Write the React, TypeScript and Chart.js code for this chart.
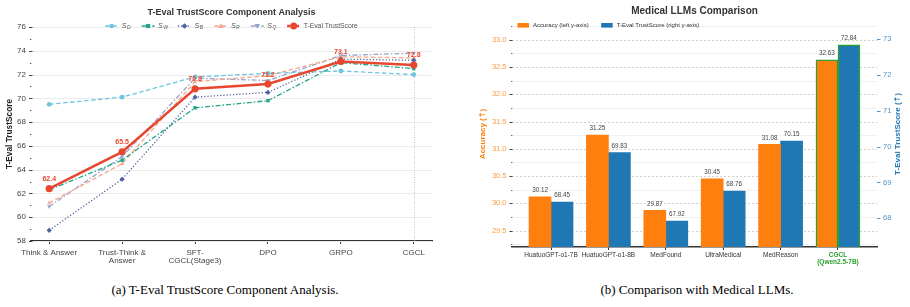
import React, { useEffect, useRef } from 'react';
import { Chart, registerables } from 'chart.js';

Chart.register(...registerables);

const FONT = "'Liberation Sans', Arial, Helvetica, sans-serif";
const ARROW_FONT = "'DejaVu Sans', sans-serif";

// ---------- Chart (a) data ----------
const stageLabels: string[][] = [
  ['Think & Answer'],
  ['Trust-Think &', 'Answer'],
  ['SFT-', 'CGCL(Stage3)'],
  ['DPO'],
  ['GRPO'],
  ['CGCL'],
];
const scoreD = [69.5, 70.1, 71.8, 72.1, 72.3, 72.0];
const scoreW = [62.3, 64.8, 69.2, 69.8, 73.0, 72.5];
const scoreB = [58.9, 63.2, 70.1, 70.5, 73.3, 73.2];
const scoreR = [61.2, 64.5, 71.4, 71.9, 73.5, 73.4];
const scoreQ = [60.9, 65.1, 71.7, 71.5, 73.6, 73.8];
const trustScore = [62.4, 65.5, 70.8, 71.2, 73.1, 72.8];
const leftYMajor = [58, 60, 62, 64, 66, 68, 70, 72, 74, 76];
const leftYMinor = [59, 61, 63, 65, 67, 69, 71, 73, 75];

// ---------- Chart (b) data ----------
const models: string[][] = [
  ['HuatuoGPT-o1-7B'],
  ['HuatuoGPT-o1-8B'],
  ['MedFound'],
  ['UltraMedical'],
  ['MedReason'],
  ['CGCL', '(Qwen2.5-7B)'],
];
const accuracy = [30.12, 31.25, 29.87, 30.45, 31.08, 32.63];
const trustB = [68.45, 69.83, 67.92, 68.76, 70.15, 72.84];
const accMajor = [29.5, 30.0, 30.5, 31.0, 31.5, 32.0, 32.5, 33.0];
const accMinor = [29.25, 29.75, 30.25, 30.75, 31.25, 31.75, 32.25, 32.75, 33.25];
const trustTicks = [68, 69, 70, 71, 72, 73];

type Marker = 'circle' | 'rect' | 'rectRot' | 'triangle' | 'triangleDown';

const seriesStyles: { sub: string; data: number[]; color: string; dash: number[]; marker: Marker }[] = [
  { sub: 'D', data: scoreD, color: '#6cc5dd', dash: [4.5, 2.5], marker: 'circle' },
  { sub: 'W', data: scoreW, color: '#22a488', dash: [5, 2, 1.5, 2], marker: 'rect' },
  { sub: 'B', data: scoreB, color: '#4d62a0', dash: [1.2, 2], marker: 'rectRot' },
  { sub: 'R', data: scoreR, color: '#f4a88c', dash: [4.5, 2.5], marker: 'triangle' },
  { sub: 'Q', data: scoreQ, color: '#96a2cc', dash: [5, 2, 1.5, 2], marker: 'triangleDown' },
];
const RED = '#e8472f';

function drawMarker(ctx: CanvasRenderingContext2D, m: Marker, x: number, y: number, r: number, color: string) {
  ctx.save();
  ctx.setLineDash([]);
  ctx.fillStyle = color;
  ctx.beginPath();
  if (m === 'circle') ctx.arc(x, y, r, 0, Math.PI * 2);
  else if (m === 'rect') {
    const s = r * 0.9;
    ctx.rect(x - s, y - s, 2 * s, 2 * s);
  } else if (m === 'rectRot') {
    const s = r * 1.2;
    ctx.moveTo(x, y - s);
    ctx.lineTo(x + s, y);
    ctx.lineTo(x, y + s);
    ctx.lineTo(x - s, y);
    ctx.closePath();
  } else if (m === 'triangle') {
    const s = r * 1.2;
    ctx.moveTo(x, y - s);
    ctx.lineTo(x + s, y + s * 0.7);
    ctx.lineTo(x - s, y + s * 0.7);
    ctx.closePath();
  } else {
    const s = r * 1.2;
    ctx.moveTo(x, y + s);
    ctx.lineTo(x + s, y - s * 0.7);
    ctx.lineTo(x - s, y - s * 0.7);
    ctx.closePath();
  }
  ctx.fill();
  ctx.restore();
}

// draws "text (↑)" centred at 0,0 in current transform; arrow uses a font that has the glyph
function drawArrowTitle(ctx: CanvasRenderingContext2D, text: string, size: number, color: string) {
  const f1 = `bold ${size}px ${FONT}`;
  const f2 = `bold ${size}px ${ARROW_FONT}`;
  ctx.fillStyle = color;
  ctx.textBaseline = 'middle';
  ctx.textAlign = 'left';
  ctx.font = f1;
  const w1 = ctx.measureText(text + ' (').width;
  const w3 = ctx.measureText(')').width;
  ctx.font = f2;
  const w2 = ctx.measureText('\u2191').width;
  const total = w1 + w2 + w3;
  let x = -total / 2;
  ctx.font = f1;
  ctx.fillText(text + ' (', x, 0);
  x += w1;
  ctx.font = f2;
  ctx.fillText('\u2191', x, 0);
  x += w2;
  ctx.font = f1;
  ctx.fillText(')', x, 0);
}

const pluginA = {
  id: 'decoA',
  beforeDatasetsDraw(chart: any) {
    const { ctx, chartArea: ca } = chart;
    const xs = chart.scales.x;
    const ys = chart.scales.y;
    ctx.save();
    ctx.strokeStyle = '#ebebeb';
    ctx.lineWidth = 1;
    for (const v of leftYMajor) {
      const py = Math.round(ys.getPixelForValue(v)) + 0.5;
      ctx.beginPath();
      ctx.moveTo(ca.left, py);
      ctx.lineTo(ca.right, py);
      ctx.stroke();
    }
    const px = Math.round(xs.getPixelForValue(5)) + 0.5;
    ctx.strokeStyle = '#c2c2c2';
    ctx.setLineDash([1, 1.5]);
    ctx.beginPath();
    ctx.moveTo(px, ca.top);
    ctx.lineTo(px, ca.bottom);
    ctx.stroke();
    ctx.restore();
  },
  afterDatasetsDraw(chart: any) {
    const { ctx } = chart;
    const idx = chart.data.datasets.findIndex((d: any) => d.label === 'T-Eval TrustScore');
    const meta = chart.getDatasetMeta(idx);
    ctx.save();
    ctx.font = `bold 7px ${FONT}`;
    ctx.fillStyle = RED;
    ctx.textAlign = 'center';
    ctx.textBaseline = 'middle';
    meta.data.forEach((el: any, i: number) => {
      ctx.fillText(trustScore[i].toFixed(1), el.x, el.y - 9.5);
    });
    ctx.restore();
  },
  afterDraw(chart: any) {
    const { ctx, chartArea: ca } = chart;
    const ys = chart.scales.y;
    ctx.save();
    ctx.strokeStyle = '#444';
    ctx.lineWidth = 1;
    for (const v of leftYMajor) {
      const py = Math.round(ys.getPixelForValue(v)) + 0.5;
      ctx.beginPath();
      ctx.moveTo(ca.left - 2, py);
      ctx.lineTo(ca.left + 1.5, py);
      ctx.stroke();
    }
    ctx.strokeStyle = '#555';
    for (const v of leftYMinor) {
      const py = Math.round(ys.getPixelForValue(v)) + 0.5;
      ctx.beginPath();
      ctx.moveTo(ca.left - 1, py);
      ctx.lineTo(ca.left + 0.3, py);
      ctx.stroke();
    }
    const cx = (ca.left + ca.right) / 2;
    ctx.fillStyle = '#333';
    ctx.font = `bold 9px ${FONT}`;
    ctx.textAlign = 'center';
    ctx.textBaseline = 'middle';
    ctx.fillText('T-Eval TrustScore Component Analysis', cx, 13);
    ctx.save();
    ctx.translate(10, (ca.top + ca.bottom) / 2);
    ctx.rotate(-Math.PI / 2);
    ctx.font = `bold 8.3px ${FONT}`;
    ctx.fillStyle = '#222';
    ctx.fillText('T-Eval TrustScore', 0, 0);
    ctx.restore();
    // legend
    const ly = 26;
    const lineW = 13;
    const gap1 = 3.5;
    const gap2 = 10;
    const mainFont = `italic 7px ${FONT}`;
    const subFont = `italic 5px ${FONT}`;
    const widths: number[] = seriesStyles.map(() => {
      ctx.font = mainFont;
      const w1 = ctx.measureText('S').width;
      ctx.font = subFont;
      return w1 + 0.5 + ctx.measureText('W').width;
    });
    ctx.font = `6.8px ${FONT}`;
    const redW = ctx.measureText('T-Eval TrustScore').width;
    let total = 0;
    widths.forEach((w) => (total += lineW + gap1 + w + gap2));
    total += lineW + gap1 + redW;
    let x = cx - total / 2;
    seriesStyles.forEach((s, i) => {
      ctx.save();
      ctx.strokeStyle = s.color;
      ctx.lineWidth = 1.3;
      ctx.setLineDash(s.dash);
      ctx.beginPath();
      ctx.moveTo(x, ly);
      ctx.lineTo(x + lineW, ly);
      ctx.stroke();
      ctx.restore();
      drawMarker(ctx, s.marker, x + lineW / 2, ly, 2.3, s.color);
      const tx = x + lineW + gap1;
      ctx.fillStyle = '#555';
      ctx.textAlign = 'left';
      ctx.textBaseline = 'middle';
      ctx.font = mainFont;
      ctx.fillText('S', tx, ly);
      const w1 = ctx.measureText('S').width;
      ctx.font = subFont;
      ctx.fillText(s.sub, tx + w1 + 0.5, ly + 2);
      x += lineW + gap1 + widths[i] + gap2;
    });
    ctx.save();
    ctx.strokeStyle = RED;
    ctx.lineWidth = 2.5;
    ctx.setLineDash([3, 1.5]);
    ctx.beginPath();
    ctx.moveTo(x, ly);
    ctx.lineTo(x + lineW, ly);
    ctx.stroke();
    ctx.restore();
    drawMarker(ctx, 'circle', x + lineW / 2, ly, 3.5, RED);
    ctx.fillStyle = '#555';
    ctx.font = `6.8px ${FONT}`;
    ctx.textAlign = 'left';
    ctx.textBaseline = 'middle';
    ctx.fillText('T-Eval TrustScore', x + lineW + gap1, ly);
    ctx.restore();
  },
};

function configA(): any {
  const datasets: any[] = seriesStyles.map((s, i) => ({
    label: 'S_' + s.sub,
    data: s.data.map((v, j) => ({ x: j, y: v })),
    borderColor: s.color,
    backgroundColor: s.color,
    borderWidth: 1.3,
    borderDash: s.dash,
    pointStyle: s.marker === 'triangleDown' ? 'triangle' : s.marker,
    pointRotation: s.marker === 'triangleDown' ? 180 : 0,
    pointRadius: s.marker === 'rectRot' ? 2.6 : 2.4,
    pointBorderWidth: 0,
    pointBackgroundColor: s.color,
    tension: 0,
    order: i + 1,
  }));
  datasets.push({
    label: 'T-Eval TrustScore',
    data: trustScore.map((v, j) => ({ x: j, y: v })),
    borderColor: RED,
    backgroundColor: RED,
    borderWidth: 2.5,
    pointStyle: 'circle',
    pointRadius: 3.6,
    pointBorderWidth: 0,
    pointBackgroundColor: RED,
    tension: 0,
    order: 0,
  });
  return {
    type: 'line',
    data: { datasets },
    options: {
      responsive: false,
      animation: false,
      devicePixelRatio: 1,
      layout: { padding: { left: 0, right: 18, top: 27, bottom: 0 } },
      plugins: { legend: { display: false }, title: { display: false }, tooltip: { enabled: false } },
      scales: {
        x: {
          type: 'linear',
          min: -0.25,
          max: 5.25,
          afterBuildTicks: (s: any) => {
            s.ticks = [0, 1, 2, 3, 4, 5].map((v) => ({ value: v }));
          },
          afterFit: (s: any) => {
            s.height = 34;
          },
          ticks: {
            autoSkip: false,
            maxRotation: 0,
            minRotation: 0,
            padding: 4,
            color: '#444',
            font: { family: FONT, size: 8, lineHeight: 1.1 },
            callback: (v: any) => stageLabels[Math.round(v)] || '',
          },
          grid: { display: true, drawOnChartArea: false, drawTicks: true, tickLength: 3, color: 'rgba(0,0,0,0)', tickColor: '#333', tickWidth: 1 },
          border: { display: true, color: '#333', width: 1.3 },
        },
        y: {
          type: 'linear',
          min: 58,
          max: 76,
          afterBuildTicks: (s: any) => {
            s.ticks = leftYMajor.map((v) => ({ value: v }));
          },
          afterFit: (s: any) => {
            s.width = 31;
          },
          ticks: {
            padding: 5,
            color: '#444',
            font: { family: FONT, size: 8 },
            callback: (v: any) => String(v),
          },
          grid: { display: false, drawTicks: false },
          border: { display: false },
        },
      },
    },
    plugins: [pluginA],
  };
}

const ORANGE = '#ff7f0e';
const BLUE = '#1f77b4';
const GREEN = '#2ca02c';

const pluginB = {
  id: 'decoB',
  beforeDatasetsDraw(chart: any) {
    const { ctx, chartArea: ca } = chart;
    const yl = chart.scales.yL;
    ctx.save();
    ctx.lineWidth = 0.8;
    ctx.strokeStyle = '#eeeeee';
    for (const v of accMinor) {
      const py = Math.round(yl.getPixelForValue(v)) + 0.5;
      ctx.beginPath();
      ctx.moveTo(ca.left, py);
      ctx.lineTo(ca.right, py);
      ctx.stroke();
    }
    ctx.strokeStyle = '#c6c6c6';
    ctx.setLineDash([2, 2]);
    for (const v of accMajor) {
      const py = Math.round(yl.getPixelForValue(v)) + 0.5;
      ctx.beginPath();
      ctx.moveTo(ca.left, py);
      ctx.lineTo(ca.right, py);
      ctx.stroke();
    }
    ctx.restore();
  },
  afterDatasetsDraw(chart: any) {
    const { ctx } = chart;
    ctx.save();
    ctx.font = `6.3px ${FONT}`;
    ctx.fillStyle = '#444';
    ctx.textAlign = 'center';
    ctx.textBaseline = 'middle';
    [accuracy, trustB].forEach((vals, di) => {
      const meta = chart.getDatasetMeta(di);
      meta.data.forEach((el: any, i: number) => {
        ctx.fillText(vals[i].toFixed(2), el.x, el.y - 6.5);
      });
    });
    ctx.restore();
  },
  afterDraw(chart: any) {
    const { ctx, chartArea: ca } = chart;
    const yl = chart.scales.yL;
    const yr = chart.scales.yR;
    ctx.save();
    ctx.lineWidth = 1;
    ctx.strokeStyle = '#444';
    for (const v of accMajor) {
      const py = Math.round(yl.getPixelForValue(v)) + 0.5;
      ctx.beginPath();
      ctx.moveTo(ca.left - 2.5, py);
      ctx.lineTo(ca.left + 0.5, py);
      ctx.stroke();
    }
    for (const v of accMinor) {
      const py = Math.round(yl.getPixelForValue(v)) + 0.5;
      ctx.beginPath();
      ctx.moveTo(ca.left - 0.8, py);
      ctx.lineTo(ca.left + 0.3, py);
      ctx.stroke();
    }
    ctx.strokeStyle = '#4f93c9';
    for (const v of trustTicks) {
      const py = Math.round(yr.getPixelForValue(v)) + 0.5;
      ctx.beginPath();
      ctx.moveTo(ca.right, py);
      ctx.lineTo(ca.right + 3.5, py);
      ctx.stroke();
    }
    ctx.fillStyle = '#333';
    ctx.font = `bold 10px ${FONT}`;
    ctx.textAlign = 'center';
    ctx.textBaseline = 'middle';
    ctx.fillText('Medical LLMs Comparison', (ca.left + ca.right) / 2, 11);
    const cy = (ca.top + ca.bottom) / 2 - 2;
    ctx.save();
    ctx.translate(23, cy);
    ctx.rotate(-Math.PI / 2);
    drawArrowTitle(ctx, 'Accuracy', 8, ORANGE);
    ctx.restore();
    ctx.save();
    ctx.translate(438, cy);
    ctx.rotate(-Math.PI / 2);
    drawArrowTitle(ctx, 'T-Eval TrustScore', 8, BLUE);
    ctx.restore();
    // legend
    const ly = 25.3;
    let x = ca.left + 5.5;
    ctx.font = `6px ${FONT}`;
    ctx.textAlign = 'left';
    ctx.textBaseline = 'middle';
    const items = [
      { c: ORANGE, t: 'Accuracy (left y-axis)' },
      { c: BLUE, t: 'T-Eval TrustScore (right y-axis)' },
    ];
    items.forEach((it) => {
      ctx.fillStyle = it.c;
      ctx.fillRect(x, ly - 2.3, 11.5, 4.6);
      ctx.fillStyle = '#333';
      ctx.fillText(it.t, x + 15.5, ly);
      x += 15.5 + ctx.measureText(it.t).width + 12.5;
    });
    ctx.restore();
  },
};

function configB(): any {
  return {
    type: 'bar',
    data: {
      datasets: [
        {
          label: 'Accuracy (left y-axis)',
          data: accuracy.map((v, i) => ({ x: i, y: v })),
          yAxisID: 'yL',
          backgroundColor: ORANGE,
          borderColor: accuracy.map((_, i) => (i === 5 ? GREEN : 'rgba(0,0,0,0)')),
          borderWidth: accuracy.map((_, i) => (i === 5 ? 1.5 : 0)),
          barThickness: 22,
        },
        {
          label: 'T-Eval TrustScore (right y-axis)',
          data: trustB.map((v, i) => ({ x: i, y: v })),
          yAxisID: 'yR',
          backgroundColor: BLUE,
          borderColor: trustB.map((_, i) => (i === 5 ? GREEN : 'rgba(0,0,0,0)')),
          borderWidth: trustB.map((_, i) => (i === 5 ? 1.5 : 0)),
          barThickness: 22,
        },
      ],
    },
    options: {
      responsive: false,
      animation: false,
      devicePixelRatio: 1,
      layout: { padding: { left: 0, right: 0, top: 25, bottom: 0 } },
      plugins: { legend: { display: false }, title: { display: false }, tooltip: { enabled: false } },
      scales: {
        x: {
          type: 'linear',
          min: -0.68,
          max: 5.68,
          offset: false,
          afterBuildTicks: (s: any) => {
            s.ticks = [0, 1, 2, 3, 4, 5].map((v) => ({ value: v }));
          },
          afterFit: (s: any) => {
            s.height = 28;
          },
          ticks: {
            autoSkip: false,
            maxRotation: 0,
            minRotation: 0,
            padding: 2.5,
            color: (c: any) => (c.index === 5 ? GREEN : '#333'),
            font: (c: any) => ({ family: FONT, size: 6.5, lineHeight: 0.95, weight: c.index === 5 ? 'bold' : 'normal' }),
            callback: (v: any) => models[Math.round(v)] || '',
          },
          grid: { display: true, offset: false, drawOnChartArea: false, drawTicks: true, tickLength: 3, color: 'rgba(0,0,0,0)', tickColor: '#333', tickWidth: 1 },
          border: { display: true, color: '#333', width: 1.5 },
        },
        yL: {
          type: 'linear',
          position: 'left',
          min: 29.2,
          max: 33.27,
          afterBuildTicks: (s: any) => {
            s.ticks = accMajor.map((v) => ({ value: v }));
          },
          afterFit: (s: any) => {
            s.width = 52;
          },
          ticks: {
            padding: 5.5,
            color: '#ff9a3d',
            font: { family: FONT, size: 7.5 },
            callback: (v: any) => Number(v).toFixed(1),
          },
          grid: { display: false, drawTicks: false },
          border: { display: false },
        },
        yR: {
          type: 'linear',
          position: 'right',
          min: 67.2,
          max: 73.39,
          afterBuildTicks: (s: any) => {
            s.ticks = trustTicks.map((v) => ({ value: v }));
          },
          afterFit: (s: any) => {
            s.width = 33;
          },
          ticks: {
            padding: 6,
            color: '#4f93c9',
            font: { family: FONT, size: 7.5 },
            callback: (v: any) => String(v),
          },
          grid: { display: false, drawTicks: false },
          border: { display: false },
        },
      },
    },
    plugins: [pluginB],
  };
}

const captionFont = "13px 'Liberation Serif', 'Times New Roman', Times, serif";

export default function App() {
  const refA = useRef<HTMLCanvasElement>(null);
  const refB = useRef<HTMLCanvasElement>(null);
  useEffect(() => {
    const a = new Chart(refA.current as HTMLCanvasElement, configA());
    const b = new Chart(refB.current as HTMLCanvasElement, configB());
    return () => {
      a.destroy();
      b.destroy();
    };
  }, []);
  return (
    <div style={{ position: 'fixed', left: 0, top: 0, width: 910, height: 307, background: '#fff', overflow: 'hidden' }}>
      <canvas ref={refA} width={450} height={275} style={{ position: 'absolute', left: 0, top: 0, width: 450, height: 275 }} />
      <canvas ref={refB} width={450} height={275} style={{ position: 'absolute', left: 460, top: 0, width: 450, height: 275 }} />
      <div style={{ position: 'absolute', left: 0, width: 450, top: 282, textAlign: 'center', font: captionFont, color: '#000' }}>
        (a) T-Eval TrustScore Component Analysis.
      </div>
      <div style={{ position: 'absolute', left: 472, width: 450, top: 282, textAlign: 'center', font: captionFont, color: '#000' }}>
        (b) Comparison with Medical LLMs.
      </div>
    </div>
  );
}
